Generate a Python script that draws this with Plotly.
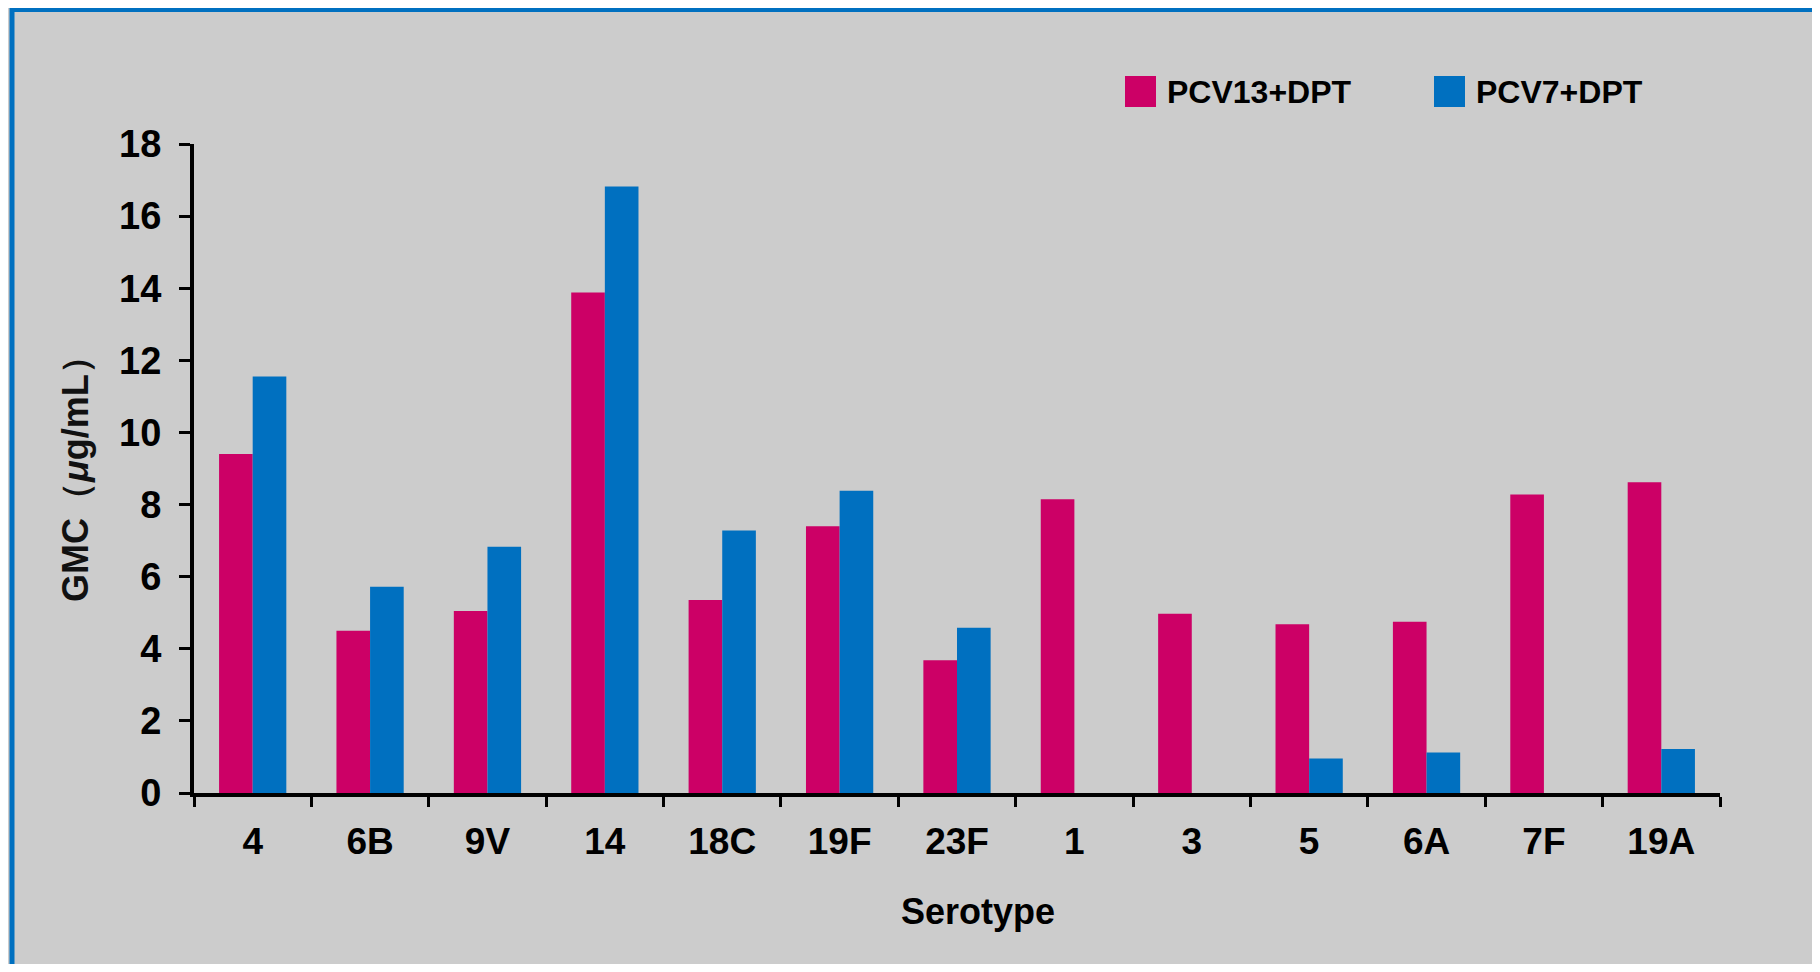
import plotly.graph_objects as go

serotypes = ["4", "6B", "9V", "14", "18C", "19F", "23F", "1", "3", "5", "6A", "7F", "19A"]
pcv13_dpt = [9.4, 4.5, 5.05, 13.88, 5.35, 7.4, 3.68, 8.15, 4.97, 4.68, 4.75, 8.28, 8.62]
pcv7_dpt = [11.55, 5.72, 6.83, 16.82, 7.28, 8.38, 4.58, None, None, 0.96, 1.12, None, 1.22]
series_names = ["PCV13+DPT", "PCV7+DPT"]
colors = ["#CC0066", "#0070C0"]
y_ticks = [0, 2, 4, 6, 8, 10, 12, 14, 16, 18]
x_title = "Serotype"
y_title = "GMC（<i>μ</i>g/mL）"

OFF = 8  # page body margin
W, H = 1804, 956
L, T = 194 - OFF, 144 - OFF
PLOT_R, PLOT_B = 1720 - OFF, 793 - OFF
R, B = W - PLOT_R, H - PLOT_B
PW, PH = PLOT_R - L, PLOT_B - T


def px_x(p):
    return (p - OFF - L) / PW


def px_y(p):
    return (PLOT_B - (p - OFF)) / PH


FONT = "Arial, 'Liberation Sans', sans-serif"

fig = go.Figure()
for name, vals, col in zip(series_names, [pcv13_dpt, pcv7_dpt], colors):
    fig.add_trace(go.Bar(x=serotypes, y=vals, name=name, marker=dict(color=col, line=dict(width=0)),
                         showlegend=False))

# outer panel: gray with blue frame
shapes = [dict(type="rect", xref="paper", yref="paper", x0=px_x(12), x1=px_x(1900),
               y0=px_y(1100), y1=px_y(9.5), fillcolor="#CCCCCC",
               line=dict(color="#0070C0", width=5), layer="below")]

# legend drawn as swatches + text
annotations = []
legend_items = [(1125, 1165), (1434, 1474)]
for (sx, tx), name, col in zip(legend_items, series_names, colors):
    shapes.append(dict(type="rect", xref="paper", yref="paper", x0=px_x(sx), x1=px_x(sx + 31),
                       y0=px_y(107), y1=px_y(76), fillcolor=col, line=dict(width=0), layer="above"))
    annotations.append(dict(xref="paper", yref="paper", x=px_x(tx), y=px_y(91.5), text=name,
                            showarrow=False, xanchor="left", yanchor="middle",
                            font=dict(family=FONT, size=32, color="black", weight="bold")))

# axis titles
annotations.append(dict(xref="paper", yref="paper", x=px_x(978), y=px_y(911), text=x_title,
                        showarrow=False, xanchor="center", yanchor="middle",
                        font=dict(family=FONT, size=36, color="black", weight="bold")))
annotations.append(dict(xref="paper", yref="paper", x=px_x(75), y=px_y(470), text=y_title,
                        showarrow=False, xanchor="center", yanchor="middle", textangle=-90,
                        font=dict(family=FONT, size=36, color="#111111", weight="bold")))

fig.update_layout(
    width=W, height=H,
    margin=dict(l=L, r=R, t=T, b=B, autoexpand=False),
    paper_bgcolor="#CCCCCC", plot_bgcolor="rgba(0,0,0,0)",
    barmode="group", bargap=0.427, bargroupgap=0,
    shapes=shapes, annotations=annotations,
    showlegend=False,
    font=dict(family=FONT, color="black"),
)
fig.update_xaxes(
    type="category", tickson="boundaries", ticks="outside", ticklen=10, tickwidth=3, tickcolor="black",
    showline=True, linewidth=4, linecolor="black", showgrid=False, zeroline=False,
    tickfont=dict(family=FONT, size=37, color="black", weight="bold"), ticklabelstandoff=13,
)
fig.update_yaxes(
    range=[0, 18], tickvals=y_ticks, ticks="outside", ticklen=11, tickwidth=3, tickcolor="black",
    showline=True, linewidth=4, linecolor="black", showgrid=False, zeroline=False,
    tickfont=dict(family=FONT, size=38, color="black", weight="bold"), ticklabelstandoff=10,
)

fig.write_html("out.html")
